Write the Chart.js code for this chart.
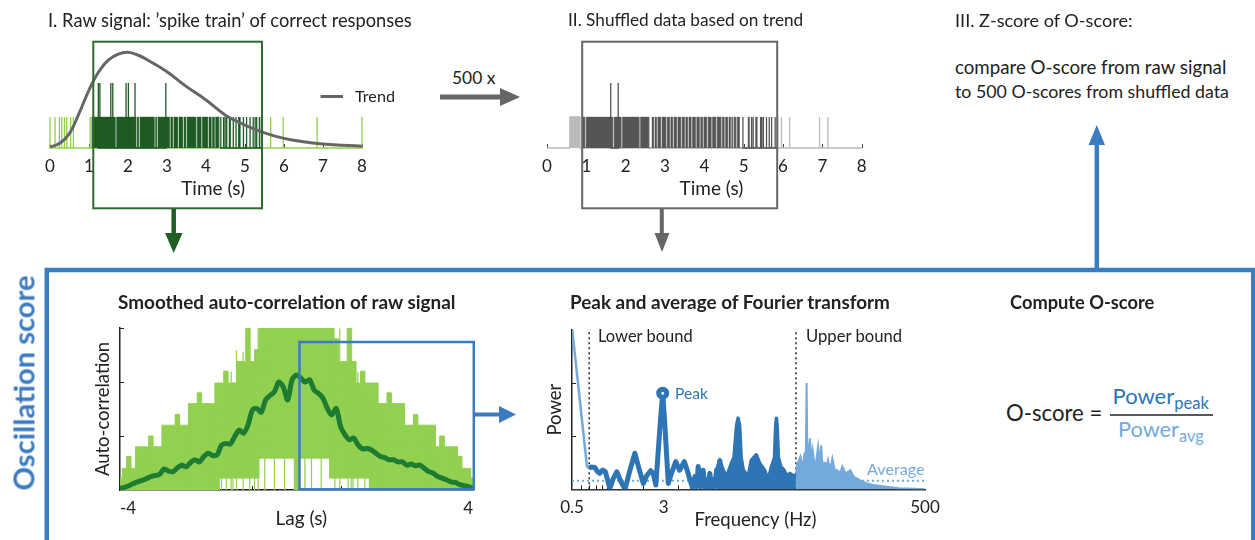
<!DOCTYPE html>
<html>
<head>
<meta charset="utf-8">
<script src="https://cdn.jsdelivr.net/npm/chart.js@4.4.0/dist/chart.umd.min.js"></script>
<style>
  body { margin: 0; width: 1255px; height: 540px; position: relative; overflow: hidden; background: #fff; font-family: Lato, sans-serif; color: #222; }
  canvas { position: absolute; }
  .t { position: absolute; white-space: nowrap; line-height: 1; transform: translateY(-50%); font-size: 17px; }
  .b { font-weight: bold; }
  .sub { position: relative; top: 0.3em; font-size: 0.75em; }
  svg { position: absolute; left: 0; top: 0; }
</style>
</head>
<body>
<canvas id="raw"></canvas>
<canvas id="shuf"></canvas>
<canvas id="acf"></canvas>
<canvas id="fft"></canvas>

<div class="t" data-w="364" style="left:48px;top:19.5px">I. Raw signal: ’spike train’ of correct responses</div>
<div class="t" data-w="235" style="left:568px;top:19.5px">II. Shuffled data based on trend</div>
<div class="t" data-w="178" style="left:955px;top:19.5px">III. Z-score of O-score:</div>
<div class="t" data-w="272" style="left:955px;top:67px">compare O-score from raw signal</div>
<div class="t" data-w="274" style="left:955px;top:91.5px">to 500 O-scores from shuffled data</div>
<div class="t" data-w="43" style="left:452px;top:77.5px">500 x</div>
<div class="t" data-w="40" style="left:355px;top:96px">Trend</div>

<div class="t b" data-w="337" style="left:118px;top:302px">Smoothed auto-correlation of raw signal</div>
<div class="t b" data-w="320" style="left:570px;top:302px">Peak and average of Fourier transform</div>
<div class="t b" data-w="144" style="left:1010px;top:302px">Compute O-score</div>
<div class="t b" data-w="215" style="left:22.5px;top:383px;font-size:24px;color:#3b7bbf;transform:translate(-50%,-50%) rotate(-90deg)">Oscillation score</div>

<div class="t" data-w="95" style="left:598px;top:336px">Lower bound</div>
<div class="t" data-w="96" style="left:806px;top:336px">Upper bound</div>
<div class="t" data-w="33" style="left:675px;top:394px;color:#2e75b6">Peak</div>
<div class="t" data-w="58" style="left:867px;top:468.5px;color:#74aadb">Average</div>

<div class="t" data-w="96" style="left:1006px;top:412.5px;font-size:21px">O-score =</div>
<div class="t" data-w="96.5" style="left:1112.5px;top:396px;font-size:21px;color:#2e75b6">Power<span class="sub">peak</span></div>
<div class="t" data-w="86" style="left:1118px;top:430px;font-size:21px;color:#74aadb">Power<span class="sub">avg</span></div>

<svg width="1255" height="540">
  <line x1="320.5" y1="96.5" x2="343" y2="96.5" stroke="#666" stroke-width="3"/>
  <rect x="93.3" y="41.7" width="168.7" height="166.6" fill="none" stroke="#2e6b30" stroke-width="2"/>
  <rect x="582.2" y="41.7" width="195" height="166.6" fill="none" stroke="#666" stroke-width="2"/>
  <rect x="299.5" y="342" width="174.3" height="147.3" fill="none" stroke="#3b7bbf" stroke-width="2.5"/>
  <path d="M46.8,545 V270 H1253.3 V545" fill="none" stroke="#3b7bbf" stroke-width="4.5"/>
  <line x1="173.7" y1="209" x2="173.7" y2="236" stroke="#1f5f25" stroke-width="4.5"/>
  <polygon points="165,233 182.5,233 173.7,253" fill="#1f5f25"/>
  <line x1="661.8" y1="209" x2="661.8" y2="236" stroke="#666" stroke-width="4"/>
  <polygon points="654.5,233 669.5,233 662,252" fill="#666"/>
  <line x1="440" y1="97" x2="503" y2="97" stroke="#666" stroke-width="5"/>
  <polygon points="500,88 500,106 520,97" fill="#666"/>
  <line x1="474" y1="414.5" x2="502" y2="414.5" stroke="#3b7bbf" stroke-width="4"/>
  <polygon points="499,406 499,423 516,414.5" fill="#3b7bbf"/>
  <line x1="1096.8" y1="270" x2="1096.8" y2="142" stroke="#3b7bbf" stroke-width="4.5"/>
  <polygon points="1088.5,145 1105,145 1096.8,125" fill="#3b7bbf"/>
  <line x1="1110" y1="415" x2="1213" y2="415" stroke="#222" stroke-width="1.5"/>
</svg>

<script>
// ---------- data ----------
// I. raw spike train (times in s)
const timeTicks = [0, 1, 2, 3, 4, 5, 6, 7, 8];
const trendTime = [0, 0.25, 0.5, 0.75, 1, 1.25, 1.5, 1.75, 2, 2.25, 2.5, 3, 3.5, 4, 4.5, 5, 5.5, 6, 6.5, 7, 7.5, 8];
const trendValue = [0.03, 0.15, 0.47, 1.13, 1.87, 2.46, 2.84, 3.03, 3.09, 3.0, 2.84, 2.46, 1.98, 1.55, 1.06, 0.74, 0.49, 0.31, 0.2, 0.13, 0.09, 0.06];
const rawOutside = [0, 0.13, 0.24, 0.30, 0.37, 0.43, 0.53, 0.60, 1.03, 5.66, 5.98, 6.85, 8.0];
const rawBlocks = [[1.07, 1.67], [1.705, 2.20], [2.235, 2.27], [2.305, 2.67], [2.705, 2.73], [2.765, 3.06], [3.095, 3.14],
  [3.175, 3.27], [3.305, 3.40], [3.435, 3.48], [3.515, 3.74], [3.775, 3.87], [3.905, 4.04], [4.075, 4.13], [4.165, 4.21],
  [4.245, 4.33]];
const rawSpikes = [4.38, 4.45, 4.49, 4.53, 4.60, 4.62, 4.70, 4.77, 4.84, 4.87, 4.96, 5.04, 5.13, 5.21, 5.26, 5.30, 5.37, 5.42];
const rawDouble = [1.24, 1.28, 1.56, 1.61, 1.95, 2.01, 2.18, 2.97];

// II. shuffled spike train
const shufOutside = [[0.58, 0.84], 5.96, 6.17, 6.93, 7.14];
const shufBlocks = [[0.91, 0.96], [0.995, 1.67], [1.705, 1.88], [1.915, 2.34], [2.375, 2.59], [2.67, 2.71], [2.745, 2.78],
  [2.815, 2.89], [2.925, 3.02], [3.055, 3.11], [3.145, 3.19], [3.225, 3.29], [3.325, 3.40], [3.435, 3.49], [3.525, 3.57],
  [3.605, 3.66], [3.695, 3.77], [3.805, 3.87], [3.905, 3.95], [3.985, 4.06], [4.095, 4.17], [4.205, 4.29], [4.325, 4.42],
  [4.455, 4.50], [4.535, 4.59], [4.625, 4.66], [4.695, 4.72], [4.755, 4.80], [4.835, 4.89], [5.11, 5.14], [5.30, 5.34]];
const shufSpikes = [4.98, 5.20, 5.24, 5.43, 5.46, 5.50, 5.58, 5.65, 5.71, 5.80, 5.86];
const shufDouble = [1.62, 1.81];
const singleSpike = 1;
const doubleSpike = 2.1;

// auto-correlation (lag in s)
const lags = [-4, -3.9, -3.8, -3.7, -3.6, -3.5, -3.4, -3.3, -3.2, -3.1, -3, -2.9, -2.8, -2.7, -2.6, -2.5, -2.4, -2.3, -2.2, -2.1,
  -2, -1.9, -1.8, -1.7, -1.6, -1.5, -1.4, -1.3, -1.2, -1.1, -1, -0.9, -0.8, -0.7, -0.6, -0.5, -0.4, -0.3, -0.2, -0.1,
  0, 0.1, 0.2, 0.3, 0.4, 0.5, 0.6, 0.7, 0.8, 0.9, 1, 1.1, 1.2, 1.3, 1.4, 1.5, 1.6, 1.7, 1.8, 1.9,
  2, 2.1, 2.2, 2.3, 2.4, 2.5, 2.6, 2.7, 2.8, 2.9, 3, 3.1, 3.2, 3.3, 3.4, 3.5, 3.6, 3.7, 3.8, 3.9, 4];
const acfSmooth = [0.03, 0.05, 0.08, 0.12, 0.15, 0.18, 0.21, 0.25, 0.27, 0.29, 0.39, 0.35, 0.34, 0.41, 0.46, 0.43, 0.51, 0.56, 0.52, 0.62,
  0.68, 0.64, 0.65, 0.83, 0.86, 0.85, 0.99, 1.11, 1.05, 1.20, 1.48, 1.51, 1.44, 1.67, 1.75, 1.82, 2.00, 1.91, 1.67, 2.04,
  2.13, 2.07, 2.00, 2.04, 1.85, 1.79, 1.70, 1.51, 1.39, 1.51, 1.17, 1.02, 0.93, 0.96, 0.83, 0.76, 0.77, 0.74, 0.68, 0.62,
  0.60, 0.56, 0.56, 0.52, 0.52, 0.46, 0.48, 0.45, 0.46, 0.40, 0.34, 0.31, 0.25, 0.22, 0.19, 0.15, 0.14, 0.10, 0.08, 0.06, 0.03];
const acfUpper = [0.22, 0.40, 0.62, 0.40, 0.80, 0.80, 0.80, 1.00, 0.80, 0.80, 1.20, 1.20, 1.20, 1.40, 1.20, 1.20, 1.60, 1.60, 1.80, 1.60,
  1.60, 1.60, 1.98, 1.98, 2.20, 1.98, 1.98, 2.38, 2.38, 3.10, 2.38, 2.60, 3.10, 3.10, 3.10, 3.10, 3.10, 3.10, 3.10, 3.10,
  3.10, 3.10, 3.10, 3.10, 3.10, 3.10, 3.10, 3.10, 3.10, 2.80, 2.38, 2.38, 3.10, 2.38, 1.98, 2.20, 1.98, 1.98, 1.98, 1.60,
  1.60, 1.80, 1.60, 1.60, 1.60, 1.20, 1.20, 1.40, 1.20, 1.20, 1.20, 1.20, 0.80, 1.00, 0.80, 0.80, 0.80, 0.62, 0.40, 0.40, 0.22];
const acfLower = [0, 0, 0, 0, 0, 0, 0, 0, 0, 0, 0, 0, 0, 0, 0, 0, 0, 0, 0, 0,
  0, 0, 0, 0.22, 0.22, 0.22, 0.22, 0.22, 0.22, 0.22, 0.22, 0.22, 0.59, 0.59, 0.59, 0.59, 0.59, 0.59, 0.59, 0.59,
  0, 0.59, 0.59, 0.59, 0.59, 0.59, 0.59, 0.59, 0.22, 0.22, 0.22, 0.22, 0.22, 0.22, 0.22, 0.22, 0.22, 0, 0, 0,
  0, 0, 0, 0, 0, 0, 0, 0, 0, 0, 0, 0, 0, 0, 0, 0, 0, 0, 0, 0, 0];
// single thin lines of the raw auto-correlation that stick out of the band
const acfStickLag = [-3.82, -3.63, -3.48, -3.29, -3.03, -2.91, -2.42, -2.31, -2.01, -1.70, -1.59, -1.48, -1.44, -1.36, -1.21, -1.06, -0.95,
  -0.87, -0.72, -0.50, -0.27, 0.19, 0.34, 0.56, 0.87, 0.98, 1.17, 1.24, 1.28, 1.39, 1.55, 1.70, 1.92, 2.07, 2.23, 2.53, 2.75,
  3.06, 3.25, 3.51, 3.78, 3.93];
const acfStickValue = [0.62, 0.62, 0.62, 0.80, 1.20, 1.20, 1.60, 1.60, 1.60, 1.82, 1.82, 2.19, 2.0, 2.59, 2.56, 2.4, 2.56,
  2.99, 2.81, 0.62, 0.62, 0.62, 0.62, 0.62, 2.6, 2.99, 2.50, 2.4, 2.19, 2.19, 1.82, 1.60, 1.60, 1.45, 1.20, 1.20, 1.20,
  1.0, 1.0, 0.80, 0.40, 0.40];
const lagLabels = [-4, 4];
const lagTicks = [-3, -2, -1, 0, 1, 2, 3];
const acfTicks = [1, 2, 3];

// Fourier spectrum (Hz)
const freqTicks = [0.5, 3, 500];
const freqMinor = [0.6, 0.7, 0.8, 0.9, 1, 2, 4, 5, 6, 7, 8, 9, 10, 20];
const powerTicks = [1, 2];
const freqBounds = [0.7, 40];
const lowFreq = [0.5, 0.67, 0.7];
const lowPower = [3.05, 0.43, 0.40];
// inside the bounds: single line up to ~9 Hz, dense (filled) band above
const mainFreq = [0.70, 0.73, 0.78, 0.82, 0.86, 0.91, 0.96, 1.05, 1.12, 1.20, 1.30, 1.41, 1.55, 1.71, 1.85, 2.02, 2.15, 2.33, 2.45, 2.58,
  2.80, 2.95, 3.08, 3.29, 3.50, 3.81, 4.10, 4.50, 4.70, 5.03, 5.3, 5.54, 5.75, 5.91, 6.2, 6.51, 6.75, 6.95, 7.2, 7.42,
  7.7, 7.92, 8.2, 8.46, 8.8, 9.03];
const mainPower = [0.40, 0.42, 0.41, 0.34, 0.30, 0.36, 0.33, 0.02, 0.20, 0.33, 0.15, 0.00, 0.35, 0.68, 0.40, 0.11, 0.25, 0.35, 0.30, 0.08,
  1.20, 1.81, 1.20, 0.11, 0.30, 0.52, 0.36, 0.52, 0.40, 0.18, 0.02, 0.24, 0.05, 0.43, 0.05, 0.36, 0.02, 0.18, 0.05, 0.30,
  0.02, 0.18, 0.05, 0.36, 0.10, 0.56];
const denseFreq = [8.46, 9.03, 9.64, 10.3, 11.3, 11.9, 12.5, 12.9, 13.3, 13.7, 14.3, 15.0, 15.7, 16.7, 18.4, 19.7, 21.7, 23.2, 24.8, 26.3,
  26.9, 27.3, 27.7, 28.4, 29.7, 31.7, 33.8, 35.5, 37.2, 40.0];
const densePower = [0.36, 0.56, 0.36, 0.24, 0.49, 0.60, 1.20, 1.34, 1.20, 0.60, 0.36, 0.30, 0.24, 0.55, 0.65, 0.49, 0.36, 0.175, 0.43, 0.60,
  1.20, 1.34, 1.20, 0.60, 0.43, 0.36, 0.24, 0.30, 0.27, 0.25];
const highFreq = [40, 41, 43.7, 46, 47.2, 48.6, 49.3, 50.0, 51.0, 52.7, 54, 55.5, 58.2, 60, 61.7, 63.5, 65.5, 67.3, 69.5, 71.6,
  73, 74.9, 78.2, 81.6, 85.6, 90.4, 95, 99.3, 105.8, 116, 123.7, 141, 160, 182, 236, 300, 400, 500];
const highPower = [0.30, 0.46, 0.62, 0.40, 0.68, 0.70, 2.0, 0.65, 0.68, 0.96, 0.55, 0.74, 0.36, 0.60, 0.80, 0.45, 0.83, 0.43, 0.50, 0.49,
  0.40, 0.55, 0.36, 0.58, 0.36, 0.36, 0.30, 0.43, 0.30, 0.36, 0.24, 0.17, 0.11, 0.08, 0.05, 0.02, 0.01, 0.0];
const peakFreq = 2.95;
const peakPower = 1.81;
const avgPower = 0.16;

// ---------- colours ----------
const DARK_GREEN = '#1e5b24';
const LIGHT_GREEN = '#92d050';
const ACF_GREEN = '#1e7b32';
const DARK_GRAY = '#555';
const LIGHT_GRAY = '#bbb';
const BLUE = '#2e75b6';
const LIGHT_BLUE = '#74aadb';

// scale the html labels to the widths they have in the figure
document.querySelectorAll('.t[data-w]').forEach(el => {
  const size = parseFloat(getComputedStyle(el).fontSize);
  el.style.fontSize = (size * Number(el.dataset.w) / el.offsetWidth).toFixed(2) + 'px';
});

Chart.defaults.font.family = 'Lato, sans-serif';
Chart.defaults.color = '#222';
Chart.defaults.animation = false;
Chart.defaults.plugins.legend.display = false;
Chart.defaults.plugins.tooltip.enabled = false;
Chart.defaults.elements.point.radius = 0;

// small tick marks pointing into the plot
const innerTicks = {
  id: 'innerTicks',
  beforeDatasetsDraw(chart, args, opts) {
    if (!opts || !opts.len) return;
    const ctx = chart.ctx, area = chart.chartArea;
    ctx.save();
    ctx.strokeStyle = opts.color;
    ctx.lineWidth = 1;
    (opts.x || []).forEach(v => {
      const px = Math.round(chart.scales.x.getPixelForValue(v)) + 0.5;
      ctx.beginPath(); ctx.moveTo(px, area.bottom); ctx.lineTo(px, area.bottom - opts.len); ctx.stroke();
    });
    (opts.y || []).forEach(v => {
      const py = Math.round(chart.scales.y.getPixelForValue(v)) + 0.5;
      ctx.beginPath(); ctx.moveTo(area.left, py); ctx.lineTo(area.left + opts.len, py); ctx.stroke();
    });
    ctx.restore();
  }
};
Chart.register(innerTicks);

function place(id, left, top, w, h) {
  const c = document.getElementById(id);
  c.width = w; c.height = h;
  c.style.left = left + 'px'; c.style.top = top + 'px';
  return c;
}

function pts(xs, ys) {
  return xs.map((x, i) => ({ x: x, y: ys[i] }));
}

// spikes as a comb: each entry is a time or a [start, end] block
function comb(spans, h, from, to) {
  const out = [];
  if (from !== undefined) out.push({ x: from, y: 0 });
  spans.forEach(s => {
    const a = Array.isArray(s) ? s[0] : s;
    const b = Array.isArray(s) ? s[1] : s;
    out.push({ x: a, y: 0 }, { x: a, y: h }, { x: b, y: h }, { x: b, y: 0 });
  });
  if (to !== undefined) out.push({ x: to, y: 0 });
  return out;
}

// separate vertical sticks from zero, broken apart with nulls
function sticks(xs, hs) {
  const out = [];
  xs.forEach((x, i) => { out.push({ x: x, y: 0 }, { x: x, y: hs[i] }, { x: x, y: null }); });
  return out;
}

function spikeChart(id, left, padLeft, padRight, trend, blocks, spikes, outside, double, dark, light) {
  const sets = [];
  if (trend) sets.push({ data: pts(trendTime, trendValue), borderColor: '#666', borderWidth: 3, tension: 0.4, clip: false });
  sets.push({ data: comb(double, doubleSpike), borderColor: dark, borderWidth: 1.3, clip: false });
  sets.push({ data: comb(spikes, singleSpike), borderColor: dark, borderWidth: 1.3, clip: false });
  sets.push({ data: comb(blocks, singleSpike), borderColor: dark, backgroundColor: dark, borderWidth: 0.4, fill: 'origin', clip: false });
  sets.push({ data: comb(outside, singleSpike, timeTicks[0], timeTicks[timeTicks.length - 1]), borderColor: light, backgroundColor: light,
    borderWidth: 1.3, fill: 'origin', clip: false });
  return new Chart(place(id, left, 0, 420, 230), {
    type: 'line',
    data: { datasets: sets },
    options: {
      responsive: false,
      layout: { padding: { left: padLeft, right: padRight, top: 39.5, bottom: 29.5 } },
      scales: {
        x: {
          type: 'linear', min: timeTicks[0], max: timeTicks[timeTicks.length - 1],
          grid: { display: false }, border: { display: false },
          ticks: { stepSize: 1, font: { size: 17 }, padding: 0, maxRotation: 0 },
          title: { display: true, text: '\u2003Time (s)', font: { size: 19 }, padding: 0 },
          afterFit: s => { s.height = 52.5; }
        },
        y: { display: false, min: 0, max: 3.5 }
      },
      plugins: { innerTicks: { x: timeTicks, len: 4, color: '#444' } }
    }
  });
}

spikeChart('raw', 0, 50, 58, true, rawBlocks, rawSpikes, rawOutside, rawDouble, DARK_GREEN, LIGHT_GREEN);
spikeChart('shuf', 500, 47, 58.3, false, shufBlocks, shufSpikes, shufOutside, shufDouble, DARK_GRAY, LIGHT_GRAY);

// smoothed auto-correlation
new Chart(place('acf', 40, 310, 480, 230), {
  type: 'line',
  data: {
    datasets: [
      { data: pts(lags, acfSmooth), borderColor: ACF_GREEN, borderWidth: 5, tension: 0.3 },
      { data: sticks(acfStickLag, acfStickValue), borderColor: LIGHT_GREEN, borderWidth: 1.2 },
      { data: pts(lags, acfUpper), borderColor: LIGHT_GREEN, backgroundColor: LIGHT_GREEN, borderWidth: 1, stepped: 'middle', fill: '+1' },
      { data: pts(lags, acfLower), borderColor: LIGHT_GREEN, borderWidth: 1, stepped: 'middle' }
    ]
  },
  options: {
    responsive: false,
    layout: { padding: { left: 50, right: 47, top: 18, bottom: 9.4 } },
    scales: {
      x: {
        type: 'linear', min: -4, max: 4,
        afterBuildTicks: s => { s.ticks = lagLabels.map(v => ({ value: v })); },
        ticks: { align: 'inner', font: { size: 17 }, padding: 0, maxRotation: 0, autoSkip: false },
        grid: { display: false }, border: { display: true, color: '#222', width: 1.5 },
        title: { display: true, text: '\u2002Lag (s)', font: { size: 19 }, padding: 0 },
        afterFit: s => { s.height = 40.6; }
      },
      y: {
        min: 0, max: 3,
        ticks: { display: false },
        grid: { display: false }, border: { display: true, color: '#222', width: 1.5 },
        title: { display: true, text: 'Auto-correlation', font: { size: 18.5 }, padding: { top: 2, bottom: 0 } },
        afterFit: s => { s.width = 30; }
      }
    },
    plugins: { innerTicks: { x: lagTicks, y: acfTicks, len: 4, color: '#222' } }
  }
});

// Fourier transform
new Chart(place('fft', 520, 310, 430, 230), {
  type: 'line',
  data: {
    datasets: [
      { data: [{ x: peakFreq, y: peakPower }], showLine: false, pointRadius: 4, pointBorderWidth: 5,
        pointBorderColor: BLUE, pointBackgroundColor: '#fff' },
      { data: pts(mainFreq, mainPower), borderColor: BLUE, borderWidth: 5, borderJoinStyle: 'round' },
      { data: pts(denseFreq, densePower), borderColor: BLUE, backgroundColor: BLUE, borderWidth: 3.5, borderJoinStyle: 'round', fill: 'origin' },
      { data: pts(lowFreq, lowPower), borderColor: LIGHT_BLUE, borderWidth: 2.5 },
      { data: pts(highFreq, highPower), borderColor: LIGHT_BLUE, backgroundColor: LIGHT_BLUE, borderWidth: 2, fill: 'origin' },
      { data: [{ x: freqTicks[0], y: avgPower }, { x: freqTicks[2], y: avgPower }], borderColor: LIGHT_BLUE, borderWidth: 2, borderDash: [2, 3] },
      { data: [{ x: freqBounds[0], y: 0 }, { x: freqBounds[0], y: 3 }], borderColor: '#222', borderWidth: 1.5, borderDash: [2, 3] },
      { data: [{ x: freqBounds[1], y: 0 }, { x: freqBounds[1], y: 3 }], borderColor: '#222', borderWidth: 1.5, borderDash: [2, 3] }
    ]
  },
  options: {
    responsive: false,
    layout: { padding: { left: 20, right: 25, top: 20, bottom: 9.2 } },
    scales: {
      x: {
        type: 'logarithmic', min: freqTicks[0], max: freqTicks[2],
        afterBuildTicks: s => { s.ticks = freqTicks.map(v => ({ value: v })); },
        ticks: { font: { size: 17 }, padding: 0, maxRotation: 0, autoSkip: false, callback: v => String(v) },
        grid: { display: false }, border: { display: true, color: '#333', width: 1.5 },
        title: { display: true, text: '\u2003Frequency (Hz)', font: { size: 18.5 }, padding: 0 },
        afterFit: s => { s.height = 41.5; }
      },
      y: {
        min: 0, max: 3,
        ticks: { display: false },
        grid: { display: false }, border: { display: true, color: '#222', width: 1.5 },
        title: { display: true, text: 'Power', font: { size: 18.5 }, padding: { top: 3.9, bottom: 0 } },
        afterFit: s => { s.width = 32; }
      }
    },
    plugins: { innerTicks: { x: freqMinor, y: powerTicks, len: 4, color: '#222' } }
  }
});
</script>
</body>
</html>
